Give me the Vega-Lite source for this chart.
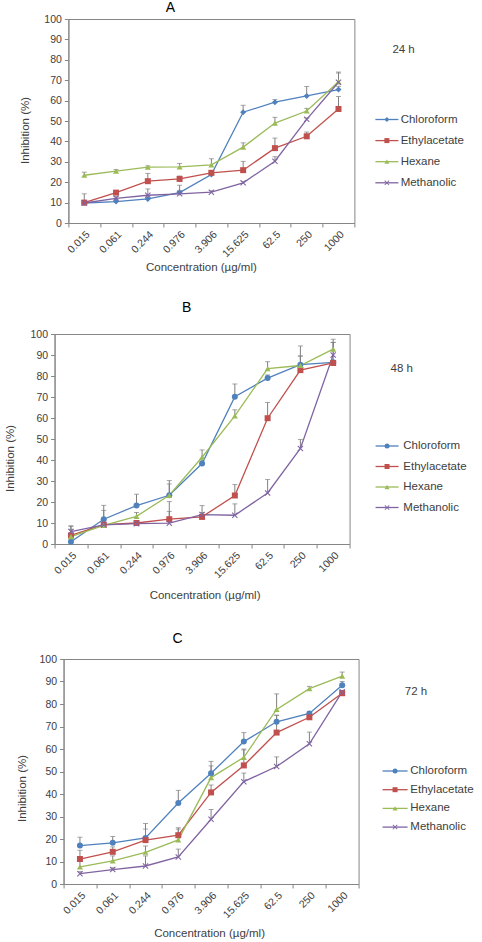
{
  "$schema": "https://vega.github.io/schema/vega-lite/v6.json",
  "background": "white",
  "padding": {"left": 4, "right": 0, "top": 0, "bottom": 0},
  "config": {
    "font": "Liberation Sans",
    "view": {"stroke": "#868686", "strokeWidth": 1},
    "axis": {
      "domainColor": "#868686", "tickColor": "#868686", "tickSize": 4, "grid": false,
      "labelFont": "Liberation Sans", "labelFontSize": 10.5, "labelColor": "#404040",
      "titleFont": "Liberation Sans", "titleFontSize": 11.5, "titleFontWeight": "normal", "titleColor": "#404040"
    },
    "legend": {"labelFont": "Liberation Sans", "labelFontSize": 11.5, "labelColor": "#404040", "titleFont": "Liberation Sans", "titleFontSize": 11.5, "titleFontWeight": "normal", "titleColor": "#404040", "padding": 0}
  },
  "datasets": {
    "A": [
      {"conc": "0.015", "series": "Chloroform", "value": 9.8, "upper": 11},
      {"conc": "0.061", "series": "Chloroform", "value": 10.5, "upper": 11.5},
      {"conc": "0.244", "series": "Chloroform", "value": 11.8, "upper": 12.8},
      {"conc": "0.976", "series": "Chloroform", "value": 14.9, "upper": 18.5},
      {"conc": "3.906", "series": "Chloroform", "value": 23.8, "upper": 25},
      {"conc": "15.625", "series": "Chloroform", "value": 54.3, "upper": 57.7},
      {"conc": "62.5", "series": "Chloroform", "value": 59.2, "upper": 60.5},
      {"conc": "250", "series": "Chloroform", "value": 62.3, "upper": 66.9},
      {"conc": "1000", "series": "Chloroform", "value": 65.4, "upper": 67},
      {"conc": "0.015", "series": "Ethylacetate", "value": 10.0, "upper": 14.3},
      {"conc": "0.061", "series": "Ethylacetate", "value": 14.9, "upper": 15.8},
      {"conc": "0.244", "series": "Ethylacetate", "value": 20.5, "upper": 24.3},
      {"conc": "0.976", "series": "Ethylacetate", "value": 21.6, "upper": 23},
      {"conc": "3.906", "series": "Ethylacetate", "value": 24.6, "upper": 25.5},
      {"conc": "15.625", "series": "Ethylacetate", "value": 25.9, "upper": 30.2},
      {"conc": "62.5", "series": "Ethylacetate", "value": 36.7, "upper": 41.6},
      {"conc": "250", "series": "Ethylacetate", "value": 42.5, "upper": 44.6},
      {"conc": "1000", "series": "Ethylacetate", "value": 55.9, "upper": 62},
      {"conc": "0.015", "series": "Hexane", "value": 23.4, "upper": 24.9},
      {"conc": "0.061", "series": "Hexane", "value": 25.4, "upper": 26.2},
      {"conc": "0.244", "series": "Hexane", "value": 27.4, "upper": 28},
      {"conc": "0.976", "series": "Hexane", "value": 27.5, "upper": 29.2},
      {"conc": "3.906", "series": "Hexane", "value": 28.5, "upper": 31.5},
      {"conc": "15.625", "series": "Hexane", "value": 37.2, "upper": 39.3},
      {"conc": "62.5", "series": "Hexane", "value": 49, "upper": 51.8},
      {"conc": "250", "series": "Hexane", "value": 54.9, "upper": 56.2},
      {"conc": "1000", "series": "Hexane", "value": 69.2, "upper": 74},
      {"conc": "0.015", "series": "Methanolic", "value": 9.8, "upper": 10.5},
      {"conc": "0.061", "series": "Methanolic", "value": 12.1, "upper": 13},
      {"conc": "0.244", "series": "Methanolic", "value": 13.6, "upper": 16.7},
      {"conc": "0.976", "series": "Methanolic", "value": 14.3, "upper": 16},
      {"conc": "3.906", "series": "Methanolic", "value": 15.1, "upper": 15.8},
      {"conc": "15.625", "series": "Methanolic", "value": 19.7, "upper": 20.3},
      {"conc": "62.5", "series": "Methanolic", "value": 30.3, "upper": 32.5},
      {"conc": "250", "series": "Methanolic", "value": 50.8, "upper": 51.5},
      {"conc": "1000", "series": "Methanolic", "value": 69, "upper": 73.5}
    ],
    "B": [
      {"conc": "0.015", "series": "Chloroform", "value": 1.1, "upper": 2},
      {"conc": "0.061", "series": "Chloroform", "value": 11.8, "upper": 18.4},
      {"conc": "0.244", "series": "Chloroform", "value": 18.3, "upper": 23.7},
      {"conc": "0.976", "series": "Chloroform", "value": 23.2, "upper": 30.2},
      {"conc": "3.906", "series": "Chloroform", "value": 38.3, "upper": 40},
      {"conc": "15.625", "series": "Chloroform", "value": 70.1, "upper": 76.2},
      {"conc": "62.5", "series": "Chloroform", "value": 79, "upper": 80.5},
      {"conc": "250", "series": "Chloroform", "value": 85.4, "upper": 94.3},
      {"conc": "1000", "series": "Chloroform", "value": 86.5, "upper": 96},
      {"conc": "0.015", "series": "Ethylacetate", "value": 4.1, "upper": 7},
      {"conc": "0.061", "series": "Ethylacetate", "value": 9.2, "upper": 10},
      {"conc": "0.244", "series": "Ethylacetate", "value": 10.0, "upper": 10.8},
      {"conc": "0.976", "series": "Ethylacetate", "value": 11.8, "upper": 20.2},
      {"conc": "3.906", "series": "Ethylacetate", "value": 12.9, "upper": 15},
      {"conc": "15.625", "series": "Ethylacetate", "value": 23.1, "upper": 28.3},
      {"conc": "62.5", "series": "Ethylacetate", "value": 59.9, "upper": 67.4},
      {"conc": "250", "series": "Ethylacetate", "value": 82.8, "upper": 89.5},
      {"conc": "1000", "series": "Ethylacetate", "value": 86.2, "upper": 87},
      {"conc": "0.015", "series": "Hexane", "value": 3.5, "upper": 8.3},
      {"conc": "0.061", "series": "Hexane", "value": 8.9, "upper": 16},
      {"conc": "0.244", "series": "Hexane", "value": 13.2, "upper": 15},
      {"conc": "0.976", "series": "Hexane", "value": 23.2, "upper": 28.6},
      {"conc": "3.906", "series": "Hexane", "value": 41.3, "upper": 44.8},
      {"conc": "15.625", "series": "Hexane", "value": 61, "upper": 63.9},
      {"conc": "62.5", "series": "Hexane", "value": 83.5, "upper": 86.8},
      {"conc": "250", "series": "Hexane", "value": 85, "upper": 89.5},
      {"conc": "1000", "series": "Hexane", "value": 92.8, "upper": 97.5},
      {"conc": "0.015", "series": "Methanolic", "value": 5.9, "upper": 8.7},
      {"conc": "0.061", "series": "Methanolic", "value": 9.1, "upper": 9.8},
      {"conc": "0.244", "series": "Methanolic", "value": 9.7, "upper": 10.5},
      {"conc": "0.976", "series": "Methanolic", "value": 9.9, "upper": 15.5},
      {"conc": "3.906", "series": "Methanolic", "value": 14, "upper": 18.3},
      {"conc": "15.625", "series": "Methanolic", "value": 13.7, "upper": 19.1},
      {"conc": "62.5", "series": "Methanolic", "value": 24.3, "upper": 30.7},
      {"conc": "250", "series": "Methanolic", "value": 45.5, "upper": 49.8},
      {"conc": "1000", "series": "Methanolic", "value": 90, "upper": 96}
    ],
    "C": [
      {"conc": "0.015", "series": "Chloroform", "value": 17.1, "upper": 20.8},
      {"conc": "0.061", "series": "Chloroform", "value": 18.3, "upper": 21.1},
      {"conc": "0.244", "series": "Chloroform", "value": 20.5, "upper": 26.9},
      {"conc": "0.976", "series": "Chloroform", "value": 36, "upper": 41.6},
      {"conc": "3.906", "series": "Chloroform", "value": 49.2, "upper": 54.5},
      {"conc": "15.625", "series": "Chloroform", "value": 63.3, "upper": 67.3},
      {"conc": "62.5", "series": "Chloroform", "value": 72.1, "upper": 75},
      {"conc": "250", "series": "Chloroform", "value": 75.8, "upper": 76.5},
      {"conc": "1000", "series": "Chloroform", "value": 88.3, "upper": 90},
      {"conc": "0.015", "series": "Ethylacetate", "value": 11.1, "upper": 15},
      {"conc": "0.061", "series": "Ethylacetate", "value": 14.3, "upper": 16.5},
      {"conc": "0.244", "series": "Ethylacetate", "value": 19.5, "upper": 24.4},
      {"conc": "0.976", "series": "Ethylacetate", "value": 21.7, "upper": 25},
      {"conc": "3.906", "series": "Ethylacetate", "value": 40.7, "upper": 44},
      {"conc": "15.625", "series": "Ethylacetate", "value": 52.7, "upper": 59.6},
      {"conc": "62.5", "series": "Ethylacetate", "value": 67.3, "upper": 75},
      {"conc": "250", "series": "Ethylacetate", "value": 74.1, "upper": 75.5},
      {"conc": "1000", "series": "Ethylacetate", "value": 84.8, "upper": 86},
      {"conc": "0.015", "series": "Hexane", "value": 7.6, "upper": 10},
      {"conc": "0.061", "series": "Hexane", "value": 10.3, "upper": 12.5},
      {"conc": "0.244", "series": "Hexane", "value": 14.1, "upper": 16.9},
      {"conc": "0.976", "series": "Hexane", "value": 19.6, "upper": 24.4},
      {"conc": "3.906", "series": "Hexane", "value": 47.3, "upper": 52.5},
      {"conc": "15.625", "series": "Hexane", "value": 56.3, "upper": 60},
      {"conc": "62.5", "series": "Hexane", "value": 77.6, "upper": 84.5},
      {"conc": "250", "series": "Hexane", "value": 86.8, "upper": 87.8},
      {"conc": "1000", "series": "Hexane", "value": 92.4, "upper": 94.2},
      {"conc": "0.015", "series": "Methanolic", "value": 4.6, "upper": 5.5},
      {"conc": "0.061", "series": "Methanolic", "value": 6.4, "upper": 7.2},
      {"conc": "0.244", "series": "Methanolic", "value": 8, "upper": 12.5},
      {"conc": "0.976", "series": "Methanolic", "value": 12, "upper": 15.5},
      {"conc": "3.906", "series": "Methanolic", "value": 28.8, "upper": 33.1},
      {"conc": "15.625", "series": "Methanolic", "value": 45.5, "upper": 49.3},
      {"conc": "62.5", "series": "Methanolic", "value": 52.2, "upper": 56.5},
      {"conc": "250", "series": "Methanolic", "value": 62.3, "upper": 67.5},
      {"conc": "1000", "series": "Methanolic", "value": 85.4, "upper": 86}
    ]
  },
  "spacing": 26,
  "center": true,
  "resolve": {"scale": {"x": "independent", "y": "independent", "color": "independent", "shape": "independent", "stroke": "independent"}},
  "vconcat": [
    {
      "title": {"text": "A", "font": "Liberation Sans", "fontSize": 14, "fontWeight": "normal", "color": "#000000", "frame": "group", "anchor": "middle", "dx": -41, "offset": -12, "baseline": "alphabetic"},
      "width": 286, "height": 204,
      "data": {"name": "A"},
      "encoding": {
        "x": {"field": "conc", "type": "nominal", "sort": ["0.015","0.061","0.244","0.976","3.906","15.625","62.5","250","1000"],
          "scale": {"type": "band", "paddingInner": 0, "paddingOuter": 0},
          "axis": {"title": "Concentration (µg/ml)", "tickBand": "extent", "labelAngle": -45, "labelPadding": 2, "titleX": 132.5, "titleY": 44.7, "titleBaseline": "middle", "titleAlign": "center"}}
      },
      "layer": [
        {"mark": {"type": "rule", "color": "#808080", "strokeWidth": 1},
         "encoding": {"y": {"field": "value", "type": "quantitative", "scale": {"domain": [0, 100], "nice": false}, "axis": {"title": "Inhibition (%)", "values": [0,10,20,30,40,50,60,70,80,90,100], "labelPadding": 3, "titleX": -43, "titleY": 111, "titleBaseline": "middle", "titleAlign": "center"}}, "y2": {"field": "upper"}}},
        {"mark": {"type": "tick", "color": "#808080", "thickness": 1, "size": 5},
         "encoding": {"y": {"field": "upper", "type": "quantitative", "axis": {"title": "Inhibition (%)", "values": [0,10,20,30,40,50,60,70,80,90,100], "labelPadding": 3, "titleX": -43, "titleY": 111, "titleBaseline": "middle", "titleAlign": "center"}}}},
        {"mark": {"type": "line", "strokeWidth": 1.3},
         "encoding": {"y": {"field": "value", "type": "quantitative", "axis": {"title": "Inhibition (%)", "values": [0,10,20,30,40,50,60,70,80,90,100], "labelPadding": 3, "titleX": -43, "titleY": 111, "titleBaseline": "middle", "titleAlign": "center"}},
           "stroke": {"field": "series", "type": "nominal", "scale": {"domain": ["Chloroform","Ethylacetate","Hexane","Methanolic"], "range": ["#4F81BD","#C0504D","#9BBB59","#8064A2"]},
             "legend": {"orient": "none", "legendX": 312.75, "legendY": 94.75, "title": null, "symbolType": "M-4.6,0L4.6,0M32.6,0L32.6,0", "symbolSize": 25, "symbolStrokeWidth": 1.3, "labelOffset": 8, "rowPadding": 8.1}}}},
        {"mark": {"type": "point", "filled": true, "size": 36, "opacity": 1},
         "encoding": {"y": {"field": "value", "type": "quantitative", "axis": {"title": "Inhibition (%)", "values": [0,10,20,30,40,50,60,70,80,90,100], "labelPadding": 3, "titleX": -43, "titleY": 111, "titleBaseline": "middle", "titleAlign": "center"}},
           "color": {"field": "series", "type": "nominal", "scale": {"range": ["#4F81BD","#C0504D","#9BBB59","#8064A2"]},
             "legend": {"orient": "none", "legendX": 324, "legendY": 25, "title": "24 h", "titlePadding": 58.25, "symbolSize": 25, "symbolOffset": -11.25, "labelExpr": "''", "rowPadding": 8.1}},
           "shape": {"field": "series", "type": "nominal", "scale": {"range": ["diamond","square","triangle-up","M-1,-0.75L-0.75,-1L0,-0.25L0.75,-1L1,-0.75L0.25,0L1,0.75L0.75,1L0,0.25L-0.75,1L-1,0.75L-0.25,0Z"]},
             "legend": {"orient": "none", "legendX": 324, "legendY": 25, "title": "24 h", "titlePadding": 58.25, "symbolSize": 25, "symbolOffset": -11.25, "labelExpr": "''", "rowPadding": 8.1}}}}
      ]
    },
    {
      "spacing": 30,
      "center": true,
      "resolve": {"scale": {"x": "independent", "y": "independent", "color": "independent", "shape": "independent", "stroke": "independent"}},
      "vconcat": [
        {
          "title": {"text": "B", "font": "Liberation Sans", "fontSize": 14, "fontWeight": "normal", "color": "#000000", "frame": "group", "anchor": "middle", "dx": -15.5, "offset": 3, "baseline": "alphabetic"},
          "width": 295, "height": 210,
          "data": {"name": "B"},
          "encoding": {
            "x": {"field": "conc", "type": "nominal", "sort": ["0.015","0.061","0.244","0.976","3.906","15.625","62.5","250","1000"],
              "scale": {"type": "band", "paddingInner": 0, "paddingOuter": 0},
              "axis": {"title": "Concentration (µg/ml)", "tickBand": "extent", "labelAngle": -45, "labelPadding": 2, "titleX": 150, "titleY": 51, "titleBaseline": "middle", "titleAlign": "center"}}
          },
          "layer": [
            {"mark": {"type": "rule", "color": "#808080", "strokeWidth": 1},
             "encoding": {"y": {"field": "value", "type": "quantitative", "scale": {"domain": [0, 100], "nice": false}, "axis": {"title": "Inhibition (%)", "values": [0,10,20,30,40,50,60,70,80,90,100], "labelPadding": 3, "titleX": -44, "titleY": 124, "titleBaseline": "middle", "titleAlign": "center"}}, "y2": {"field": "upper"}}},
            {"mark": {"type": "tick", "color": "#808080", "thickness": 1, "size": 5},
             "encoding": {"y": {"field": "upper", "type": "quantitative", "axis": {"title": "Inhibition (%)", "values": [0,10,20,30,40,50,60,70,80,90,100], "labelPadding": 3, "titleX": -44, "titleY": 124, "titleBaseline": "middle", "titleAlign": "center"}}}},
            {"mark": {"type": "line", "strokeWidth": 1.3},
             "encoding": {"y": {"field": "value", "type": "quantitative", "axis": {"title": "Inhibition (%)", "values": [0,10,20,30,40,50,60,70,80,90,100], "labelPadding": 3, "titleX": -44, "titleY": 124, "titleBaseline": "middle", "titleAlign": "center"}},
               "stroke": {"field": "series", "type": "nominal", "scale": {"domain": ["Chloroform","Ethylacetate","Hexane","Methanolic"], "range": ["#4F81BD","#C0504D","#9BBB59","#8064A2"]},
                 "legend": {"orient": "none", "legendX": 326.75, "legendY": 106.25, "title": null, "symbolType": "M-4.6,0L4.6,0M38.2,0L38.2,0", "symbolSize": 25, "symbolStrokeWidth": 1.3, "labelOffset": 10.5, "rowPadding": 7.5}}}},
            {"mark": {"type": "point", "filled": true, "size": 36, "opacity": 1},
             "encoding": {"y": {"field": "value", "type": "quantitative", "axis": {"title": "Inhibition (%)", "values": [0,10,20,30,40,50,60,70,80,90,100], "labelPadding": 3, "titleX": -44, "titleY": 124, "titleBaseline": "middle", "titleAlign": "center"}},
               "color": {"field": "series", "type": "nominal", "scale": {"range": ["#4F81BD","#C0504D","#9BBB59","#8064A2"]},
                 "legend": {"orient": "none", "legendX": 336, "legendY": 28.5, "title": "48 h", "titlePadding": 66.25, "symbolSize": 25, "symbolOffset": -9.25, "labelExpr": "''", "rowPadding": 7.5}},
               "shape": {"field": "series", "type": "nominal", "scale": {"range": ["circle","square","triangle-up","M-1,-0.75L-0.75,-1L0,-0.25L0.75,-1L1,-0.75L0.25,0L1,0.75L0.75,1L0,0.25L-0.75,1L-1,0.75L-0.25,0Z"]},
                 "legend": {"orient": "none", "legendX": 336, "legendY": 28.5, "title": "48 h", "titlePadding": 66.25, "symbolSize": 25, "symbolOffset": -9.25, "labelExpr": "''", "rowPadding": 7.5}}}}
          ]
        },
        {
          "title": {"text": "C", "font": "Liberation Sans", "fontSize": 14, "fontWeight": "normal", "color": "#000000", "frame": "group", "anchor": "middle", "dx": -33.5, "offset": -3, "baseline": "alphabetic"},
          "width": 295, "height": 225,
          "data": {"name": "C"},
          "encoding": {
            "x": {"field": "conc", "type": "nominal", "sort": ["0.015","0.061","0.244","0.976","3.906","15.625","62.5","250","1000"],
              "scale": {"type": "band", "paddingInner": 0, "paddingOuter": 0},
              "axis": {"title": "Concentration (µg/ml)", "tickBand": "extent", "labelAngle": -45, "labelPadding": 2, "titleX": 145.5, "titleY": 49.3, "titleBaseline": "middle", "titleAlign": "center"}}
          },
          "layer": [
            {"mark": {"type": "rule", "color": "#808080", "strokeWidth": 1},
             "encoding": {"y": {"field": "value", "type": "quantitative", "scale": {"domain": [0, 100], "nice": false}, "axis": {"title": "Inhibition (%)", "values": [0,10,20,30,40,50,60,70,80,90,100], "labelPadding": 3, "titleX": -41, "titleY": 129, "titleBaseline": "middle", "titleAlign": "center"}}, "y2": {"field": "upper"}}},
            {"mark": {"type": "tick", "color": "#808080", "thickness": 1, "size": 5},
             "encoding": {"y": {"field": "upper", "type": "quantitative", "axis": {"title": "Inhibition (%)", "values": [0,10,20,30,40,50,60,70,80,90,100], "labelPadding": 3, "titleX": -41, "titleY": 129, "titleBaseline": "middle", "titleAlign": "center"}}}},
            {"mark": {"type": "line", "strokeWidth": 1.3},
             "encoding": {"y": {"field": "value", "type": "quantitative", "axis": {"title": "Inhibition (%)", "values": [0,10,20,30,40,50,60,70,80,90,100], "labelPadding": 3, "titleX": -41, "titleY": 129, "titleBaseline": "middle", "titleAlign": "center"}},
               "stroke": {"field": "series", "type": "nominal", "scale": {"domain": ["Chloroform","Ethylacetate","Hexane","Methanolic"], "range": ["#4F81BD","#C0504D","#9BBB59","#8064A2"]},
                 "legend": {"orient": "none", "legendX": 325.75, "legendY": 106.25, "title": null, "symbolType": "M-5,0L5,0M31.4,0L31.4,0", "symbolSize": 25, "symbolStrokeWidth": 1.3, "labelOffset": 9.5, "rowPadding": 5.7}}}},
            {"mark": {"type": "point", "filled": true, "size": 36, "opacity": 1},
             "encoding": {"y": {"field": "value", "type": "quantitative", "axis": {"title": "Inhibition (%)", "values": [0,10,20,30,40,50,60,70,80,90,100], "labelPadding": 3, "titleX": -41, "titleY": 129, "titleBaseline": "middle", "titleAlign": "center"}},
               "color": {"field": "series", "type": "nominal", "scale": {"range": ["#4F81BD","#C0504D","#9BBB59","#8064A2"]},
                 "legend": {"orient": "none", "legendX": 341.3, "legendY": 26.5, "title": "72 h", "titlePadding": 68.25, "symbolSize": 25, "symbolOffset": -15.55, "labelExpr": "''", "rowPadding": 5.7}},
               "shape": {"field": "series", "type": "nominal", "scale": {"range": ["circle","square","triangle-up","M-1,-0.75L-0.75,-1L0,-0.25L0.75,-1L1,-0.75L0.25,0L1,0.75L0.75,1L0,0.25L-0.75,1L-1,0.75L-0.25,0Z"]},
                 "legend": {"orient": "none", "legendX": 341.3, "legendY": 26.5, "title": "72 h", "titlePadding": 68.25, "symbolSize": 25, "symbolOffset": -15.55, "labelExpr": "''", "rowPadding": 5.7}}}}
          ]
        }
      ]
    }
  ]
}
